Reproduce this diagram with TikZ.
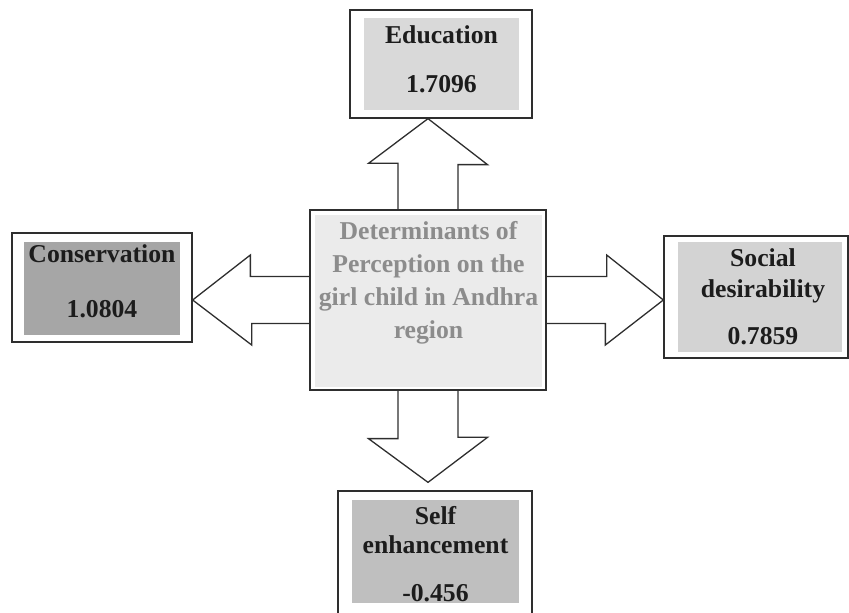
\documentclass[tikz,border=0pt]{standalone}
\usepackage{fontspec}
\setmainfont{Liberation Serif}
\usepackage{xcolor}
\definecolor{frameGray}{HTML}{2E2E2E}
\definecolor{textDark}{HTML}{1C1C1C}
\definecolor{coreText}{HTML}{8C8C8C}
\definecolor{coreFill}{HTML}{EBEBEB}
\definecolor{eduFill}{HTML}{D9D9D9}
\definecolor{consFill}{HTML}{A6A6A6}
\definecolor{socFill}{HTML}{D3D3D3}
\definecolor{selfFill}{HTML}{BFBFBF}
\usepackage{tikz}
\usetikzlibrary{calc}

\begin{document}
\begin{tikzpicture}[x=1pt, y=1pt, every node/.style={inner sep=0pt},
	outerbox/.style={draw=frameGray, line width=1.3pt, fill=white},
	shadebox/.style={fill=#1},
	boxtext/.style={font=\bfseries\fontsize{25.7}{31}\selectfont, text=textDark, align=center},
	blockarrow/.style={draw=frameGray, line width=1.3pt, line join=miter}]
	\clip (0,0) rectangle (849,613);
	% frames
	\node[outerbox, minimum width=236pt, minimum height=180pt] (core) at (428,313) {};
	\node[outerbox, minimum width=182pt, minimum height=108pt] (edu) at (441,549) {};
	\node[outerbox, minimum width=180pt, minimum height=109pt] (cons) at (102,325.5) {};
	\node[outerbox, minimum width=184pt, minimum height=122pt] (soc) at (756,316) {};
	\node[outerbox, minimum width=194pt, minimum height=134pt] (self) at (435,55) {};
	% shaded insides
	\node[shadebox=coreFill, minimum width=227pt, minimum height=172pt] (coreIn) at (428.5,312) {};
	\node[shadebox=eduFill, minimum width=155pt, minimum height=92pt] (eduIn) at (441.5,549) {};
	\node[shadebox=consFill, minimum width=156pt, minimum height=93pt] (consIn) at (102,324.5) {};
	\node[shadebox=socFill, minimum width=164pt, minimum height=110pt] (socIn) at (760,316) {};
	\node[shadebox=selfFill, minimum width=167pt, minimum height=103pt] (selfIn) at (435.5,61.5) {};
	% texts
	\node[boxtext, text=coreText, font=\bfseries\fontsize{25.7}{33}\selectfont] (coreTxt) at ([yshift=18pt]coreIn)
		{Determinants of\\Perception on the\\girl child in Andhra\\region};
	\node[boxtext] (eduTxt) at ([yshift=5pt]eduIn) {Education\\[18pt]1.7096};
	\node[boxtext] (consTxt) at ([yshift=7.5pt]consIn) {Conservation\\[24pt]1.0804};
	\node[boxtext] (socTxt) at ([xshift=3pt]socIn) {Social\\desirability\\[16pt]0.7859};
	\node[boxtext, font=\bfseries\fontsize{25.7}{29}\selectfont] (selfTxt) at ([yshift=-2.5pt]selfIn)
		{Self\\enhancement\\[19pt]-0.456};

	% block arrows
	\draw[blockarrow] ([xshift=-30pt]core.north) -- ++(0,46) -- ++(-29.5,0) -- (core.north |- edu.south)
		-- ++(59.5,-46) -- ++(-29.5,0) -- ([xshift=30pt]core.north);
	\draw[blockarrow] ([yshift=23.5pt]core.west) -- ++(-59,0) -- ++(0,21.5) -- (cons.east |- core.west)
		-- ++(59,-45) -- ++(0,21.5) -- ([yshift=-23.5pt]core.west);
	\draw[blockarrow] ([yshift=23.5pt]core.east) -- ++(60,0) -- ++(0,21.5) -- (soc.west |- core.east)
		-- ++(-58,-45) -- ++(0,21.5) -- ([yshift=-23.5pt]core.east);
	\draw[blockarrow] ([xshift=-30pt]core.south) -- ++(0,-48) -- ++(-29.5,0) -- ($(core.south |- self.north)+(0,8)$)
		-- ++(59.5,45) -- ++(-29.5,0) -- ([xshift=30pt]core.south);

\end{tikzpicture}
\end{document}
